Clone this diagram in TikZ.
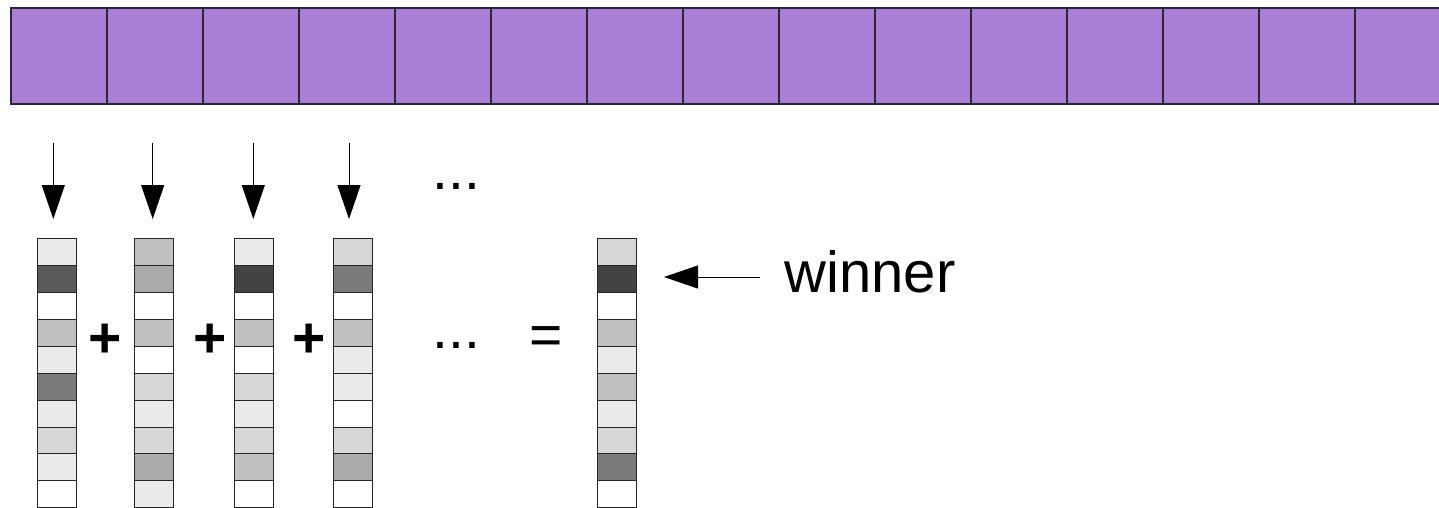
\documentclass[tikz,border=0pt]{standalone}
\usepackage{fontspec}
\setmainfont{Liberation Sans}
\usetikzlibrary{arrows.meta}
\definecolor{purp}{HTML}{A97FD6}
\definecolor{purpline}{HTML}{2E2438}
\definecolor{Lone}{HTML}{EAEAEA}
\definecolor{Ltwo}{HTML}{D7D7D7}
\definecolor{Lthree}{HTML}{C0C0C0}
\definecolor{Lfour}{HTML}{AAAAAA}
\definecolor{Done}{HTML}{7A7A7A}
\definecolor{Dtwo}{HTML}{5A5A5A}
\definecolor{Dthree}{HTML}{434343}
\definecolor{W}{HTML}{FFFFFF}
\newcommand{\gridcol}[3]{%
  \foreach \c [count=\r from 0] in {#3} {%
    \node[cell, fill=\c] (#1-\r) at (#2, {238.3+26.95*\r}) {};}}
\begin{document}
\begin{tikzpicture}[x=1pt,y=-1pt,
  topcell/.style={draw=purpline, fill=purp, line width=1.2pt, minimum width=96pt, minimum height=96pt, inner sep=0pt, outer sep=0pt, anchor=north west},
  cell/.style={draw=black!85, line width=0.9pt, minimum width=39pt, minimum height=26.95pt, inner sep=0pt, outer sep=0pt, anchor=north west},
  arr/.style={line width=1pt, -{Triangle[length=34pt,width=23pt]}},
  sym/.style={inner sep=0pt, outer sep=0pt, font=\fontsize{57}{60}\selectfont},
  lab/.style={inner sep=0pt, outer sep=0pt, font=\fontsize{58}{60}\selectfont}]
\useasboundingbox (0,0) rectangle (1439,507);
\clip (0,0) rectangle (1439,507);
% top row
\foreach \i in {0,...,14} {\node[topcell] (t\i) at ({11+96*\i},8) {};}
% columns
\gridcol{ca}{37}{Lone,Dtwo,W,Lthree,Lone,Done,Lone,Ltwo,Lone,W}
\gridcol{cb}{134}{Lthree,Lfour,W,Lthree,W,Ltwo,Lone,Ltwo,Lfour,Lone}
\gridcol{cc}{234}{Lone,Dthree,W,Lthree,W,Ltwo,Lone,Ltwo,Lthree,W}
\gridcol{cd}{333}{Ltwo,Done,W,Lthree,Lone,Lone,W,Ltwo,Lfour,W}
\gridcol{ce}{597}{Ltwo,Dthree,W,Lthree,Lone,Lthree,Lone,Ltwo,Done,W}
% arrows
\coordinate (s1) at (53.3,143); \coordinate (e1) at (53.3,219);
\coordinate (s2) at (152.7,143); \coordinate (e2) at (152.7,219);
\coordinate (s3) at (253.3,143); \coordinate (e3) at (253.3,219);
\coordinate (s4) at (349,143); \coordinate (e4) at (349,219);
\draw[arr] (s1) -- (e1);
\draw[arr] (s2) -- (e2);
\draw[arr] (s3) -- (e3);
\draw[arr] (s4) -- (e4);
% symbols
\node[sym] (p1) at (105,340.7) {\bfseries +};
\node[sym] (p2) at (210,340.7) {\bfseries +};
\node[sym] (p3) at (309,340.7) {\bfseries +};
\node[sym] (dt) at (456.5,186.7) {...};
\node[sym] (db) at (456.5,345.7) {...};
\node[sym] (eq) at (546.5,341) {=};
% winner
\node[lab] (win) at (870,272) {winner};
\coordinate (ws) at (760,277);
\coordinate (we) at (664,277);
\draw[arr] (ws) -- (we);
\end{tikzpicture}
\end{document}
